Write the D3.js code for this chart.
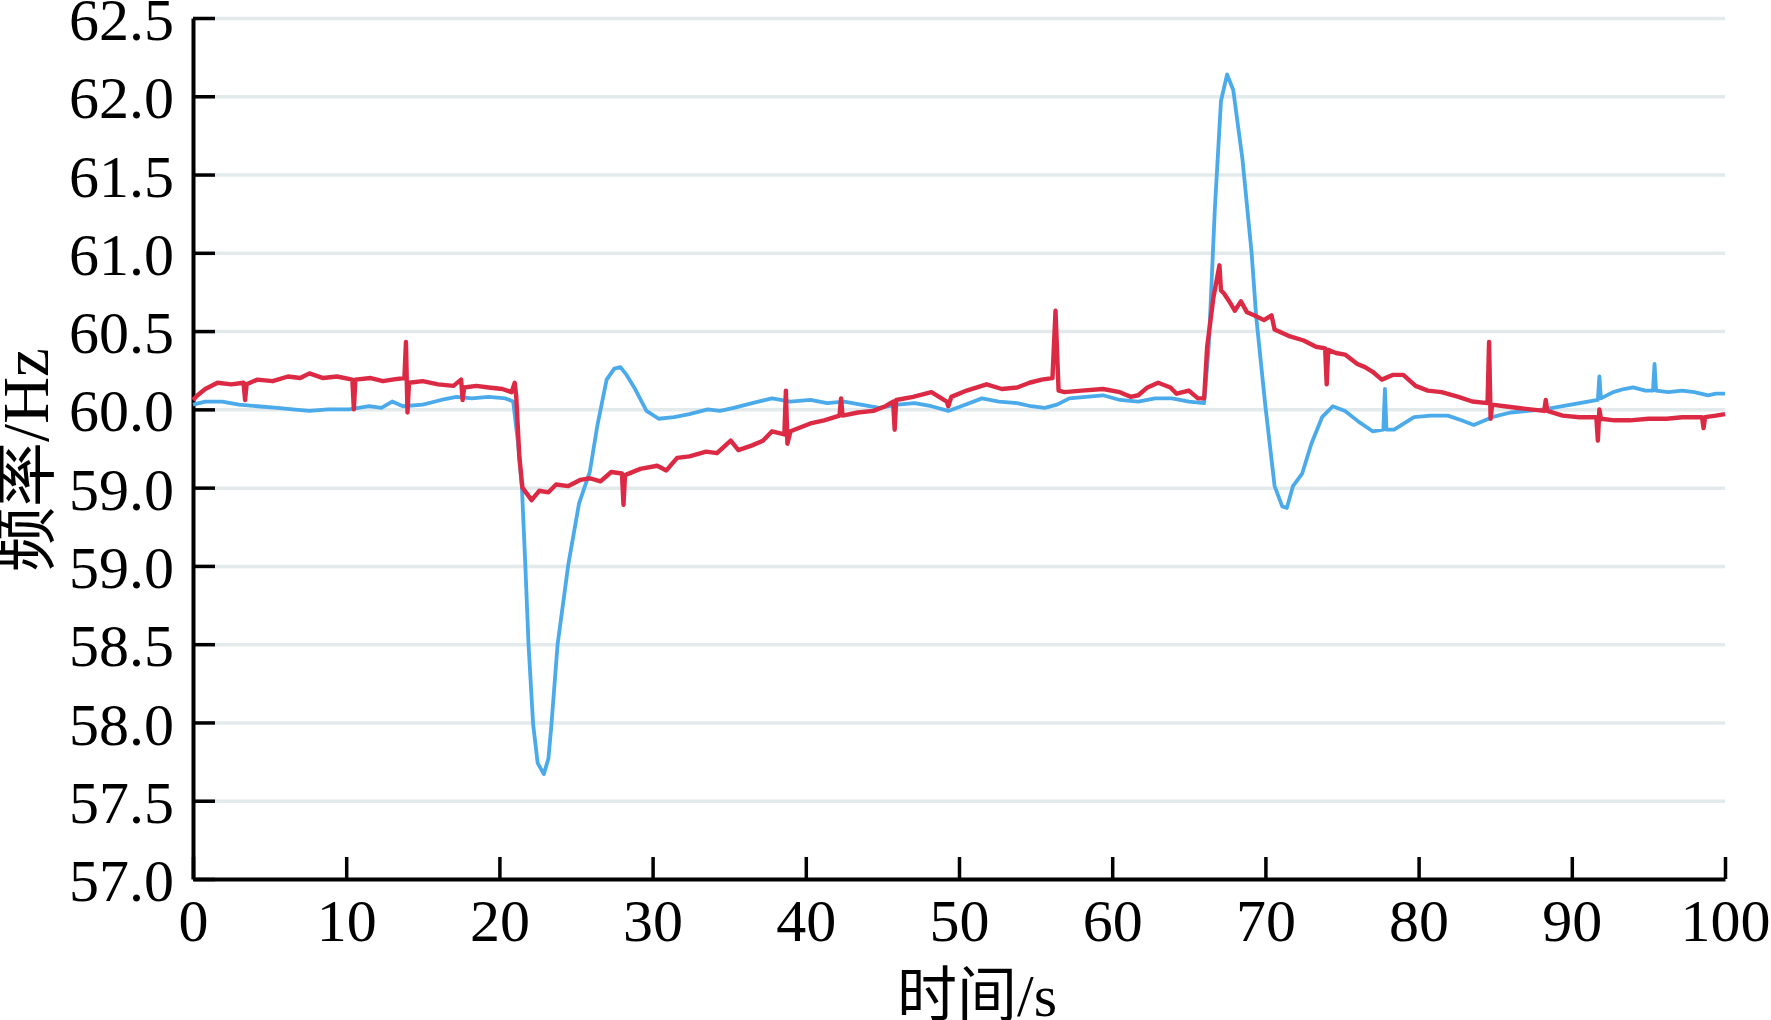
<!DOCTYPE html>
<html>
<head>
<meta charset="utf-8">
<script src="https://cdn.jsdelivr.net/npm/d3@7"></script>
<style>
    body { margin: 0; background: #fff; }
    .axis text { font-family: "Liberation Serif", "Times New Roman", serif; font-size: 60px; fill: #000; }
    .axis path, .axis line { stroke: #000; }
    .grid line { stroke: #e3eaec; stroke-width: 3.5px; }
    .grid path { display: none; }
    .axis-title { font-family: "Liberation Serif", "Noto Sans CJK SC", serif; fill: #000; }
</style>
</head>
<body>
<svg id="chart"></svg>
<script>
// time (s) and frequency (Hz)
const blueSeries = [
    [0, 60.03], [0.8, 60.05], [1.9, 60.05], [3.0, 60.03], [4.2, 60.02], [5.5, 60.01], [6.5, 60.00],
    [7.6, 59.99], [8.8, 60.00], [10.2, 60.00], [11.5, 60.02], [12.3, 60.01], [13.0, 60.05], [13.7, 60.02],
    [15.0, 60.03], [16.2, 60.06], [17.2, 60.08], [18.2, 60.07], [19.3, 60.08], [20.4, 60.07], [20.9, 60.05],
    [21.2, 59.80], [21.47, 59.50], [21.69, 59.01], [21.9, 58.50], [22.2, 57.99], [22.5, 57.74], [22.9, 57.67],
    [23.2, 57.77], [23.4, 57.99], [23.8, 58.50], [24.5, 59.01], [25.2, 59.40], [25.9, 59.60], [26.4, 59.90],
    [27.0, 60.19], [27.5, 60.26], [27.9, 60.27], [28.3, 60.22], [28.8, 60.14], [29.6, 59.99], [30.4, 59.94],
    [31.4, 59.95], [32.4, 59.97], [33.6, 60.00], [34.4, 59.99], [35.3, 60.01], [36.5, 60.04], [37.8, 60.07],
    [39.0, 60.05], [40.3, 60.06], [41.4, 60.04], [42.5, 60.05], [43.6, 60.03], [44.8, 60.01], [46.0, 60.03],
    [47.1, 60.04], [48.2, 60.02], [49.3, 59.99], [50.4, 60.03], [51.5, 60.07], [52.6, 60.05], [53.8, 60.04],
    [54.7, 60.02], [55.6, 60.01], [56.4, 60.03], [57.2, 60.07], [58.3, 60.08], [59.4, 60.09], [60.5, 60.06],
    [61.7, 60.05], [62.8, 60.07], [63.9, 60.07], [65.0, 60.05], [66.0, 60.04], [66.3, 60.40], [66.7, 61.28],
    [67.1, 61.97], [67.5, 62.14], [67.9, 62.04], [68.5, 61.60], [69.1, 61.00], [69.4, 60.59], [70.0, 60.02],
    [70.6, 59.51], [71.1, 59.38], [71.4, 59.37], [71.8, 59.51], [72.4, 59.59], [73.0, 59.78], [73.7, 59.95],
    [74.4, 60.02], [75.2, 59.99], [76.1, 59.92], [77.0, 59.86], [77.7, 59.87], [77.8, 60.13], [77.9, 59.87],
    [78.4, 59.87], [79.7, 59.95], [80.8, 59.96], [81.9, 59.96], [82.8, 59.93], [83.6, 59.90], [84.8, 59.95],
    [86.0, 59.98], [87.1, 59.99], [88.2, 60.00], [89.4, 60.02], [90.5, 60.04], [91.7, 60.06], [91.8, 60.21],
    [91.9, 60.07], [92.7, 60.11], [93.4, 60.13], [94.0, 60.14], [94.8, 60.12], [95.3, 60.12], [95.4, 60.29],
    [95.5, 60.12], [96.3, 60.11], [97.2, 60.12], [98.0, 60.11], [98.9, 60.09], [99.4, 60.10], [100, 60.10]
];

const redSeries = [
    [0, 60.06], [0.3, 60.09], [0.8, 60.13], [1.6, 60.17], [2.5, 60.16], [3.3, 60.17], [3.4, 60.06],
    [3.5, 60.16], [4.2, 60.19], [5.2, 60.18], [6.2, 60.21], [7.0, 60.20], [7.6, 60.23], [8.5, 60.20],
    [9.4, 60.21], [10.4, 60.19], [10.5, 60.00], [10.6, 60.19], [11.6, 60.20], [12.4, 60.18], [13.0, 60.19],
    [13.8, 60.20], [13.9, 60.43], [14.0, 59.98], [14.1, 60.17], [15.0, 60.18], [16.0, 60.16], [17.0, 60.15],
    [17.5, 60.19], [17.6, 60.06], [17.7, 60.14], [18.5, 60.15], [19.3, 60.14], [20.2, 60.13], [20.8, 60.11],
    [21.0, 60.17], [21.1, 60.08], [21.3, 59.70], [21.5, 59.50], [22.1, 59.42], [22.6, 59.48], [23.2, 59.47],
    [23.7, 59.52], [24.5, 59.51], [25.3, 59.55], [25.9, 59.56], [26.6, 59.54], [27.3, 59.60], [28.0, 59.59],
    [28.1, 59.39], [28.2, 59.58], [29.2, 59.62], [30.3, 59.64], [30.9, 59.61], [31.6, 59.69], [32.4, 59.70],
    [33.5, 59.73], [34.2, 59.72], [35.1, 59.80], [35.6, 59.74], [36.5, 59.77], [37.2, 59.80], [37.8, 59.86],
    [38.6, 59.84], [38.7, 60.12], [38.8, 59.78], [39.0, 59.86], [40.3, 59.91], [41.2, 59.93], [42.2, 59.96],
    [42.3, 60.07], [42.4, 59.96], [43.4, 59.98], [44.4, 59.99], [45.2, 60.02], [45.7, 60.05], [45.8, 59.87],
    [45.9, 60.06], [47.0, 60.08], [48.2, 60.11], [49.2, 60.05], [49.3, 60.02], [49.5, 60.08], [50.5, 60.12],
    [51.8, 60.16], [52.8, 60.13], [53.8, 60.14], [54.6, 60.17], [55.4, 60.19], [56.1, 60.20], [56.3, 60.63],
    [56.5, 60.12], [56.9, 60.11], [58.0, 60.12], [59.4, 60.13], [60.5, 60.11], [61.2, 60.08], [61.7, 60.09],
    [62.3, 60.14], [63.0, 60.17], [63.8, 60.14], [64.2, 60.10], [65.0, 60.12], [65.6, 60.07], [66.0, 60.07],
    [66.2, 60.40], [66.6, 60.71], [67.0, 60.92], [67.1, 60.76], [67.3, 60.74], [67.7, 60.68], [68.0, 60.63],
    [68.4, 60.69], [68.8, 60.62], [69.3, 60.60], [69.9, 60.57], [70.4, 60.60], [70.6, 60.51], [71.5, 60.47],
    [72.5, 60.44], [73.3, 60.40], [73.9, 60.39], [74.0, 60.16], [74.1, 60.38], [74.6, 60.36], [75.2, 60.35],
    [76.0, 60.29], [76.5, 60.27], [77.0, 60.24], [77.6, 60.19], [78.3, 60.22], [79.0, 60.22], [79.8, 60.15],
    [80.6, 60.12], [81.5, 60.11], [82.6, 60.08], [83.5, 60.05], [84.5, 60.04], [84.6, 60.43], [84.7, 59.94],
    [84.8, 60.03], [85.6, 60.02], [86.4, 60.01], [87.3, 60.00], [88.2, 59.99], [88.3, 60.06], [88.4, 59.99],
    [89.4, 59.96], [90.5, 59.95], [91.6, 59.95], [91.7, 59.80], [91.8, 60.00], [91.9, 59.94], [92.8, 59.93],
    [93.8, 59.93], [95.0, 59.94], [96.2, 59.94], [97.2, 59.95], [98.5, 59.95], [98.6, 59.88], [98.7, 59.95],
    [99.4, 59.96], [100, 59.97]
];

const xTicks = [0, 10, 20, 30, 40, 50, 60, 70, 80, 90, 100];
const yTicks = [57.0, 57.5, 58.0, 58.5, 59.0, 59.5, 60.0, 60.5, 61.0, 61.5, 62.0, 62.5];
// labels as printed on the figure (the 59.5 line is labelled 59.0 there)
const yTickLabels = ["57.0", "57.5", "58.0", "58.5", "59.0", "59.0", "60.0", "60.5", "61.0", "61.5", "62.0", "62.5"];

class FreqChart {
    constructor(_config) {
        this.config = {
            parentElement: _config.parentElement,
            containerWidth: _config.containerWidth || 1771,
            containerHeight: _config.containerHeight || 1020,
            margin: _config.margin || { top: 18, right: 46, bottom: 141, left: 193 }
        }
        this.initVis();
    }

    initVis() {
        let vis = this;

        vis.width = vis.config.containerWidth - vis.config.margin.left - vis.config.margin.right;
        vis.height = vis.config.containerHeight - vis.config.margin.top - vis.config.margin.bottom;

        vis.xScale = d3.scaleLinear().domain([0, 100]).range([0, vis.width]);
        vis.yScale = d3.scaleLinear().domain([57, 62.5]).range([vis.height, 0]);

        // ticks point into the plot
        vis.xAxis = d3.axisBottom(vis.xScale)
            .tickValues(xTicks)
            .tickSizeInner(-22)
            .tickSizeOuter(0)
            .tickPadding(19);

        vis.yAxis = d3.axisLeft(vis.yScale)
            .tickValues(yTicks)
            .tickFormat((d, i) => yTickLabels[i])
            .tickSizeInner(-22)
            .tickSizeOuter(0)
            .tickPadding(19);

        vis.svg = d3.select(vis.config.parentElement)
            .attr("width", vis.config.containerWidth)
            .attr("height", vis.config.containerHeight);

        vis.chart = vis.svg.append("g")
            .attr("transform", `translate(${vis.config.margin.left},${vis.config.margin.top})`);

        // horizontal grid
        vis.gridG = vis.chart.append("g").attr("class", "grid");

        vis.xAxisG = vis.chart.append("g")
            .attr("class", "axis x-axis")
            .attr("transform", `translate(0,${vis.height})`);

        vis.yAxisG = vis.chart.append("g").attr("class", "axis y-axis");

        vis.line = d3.line()
            .x(d => vis.xScale(d[0]))
            .y(d => vis.yScale(d[1]));

        vis.renderVis();
    }

    renderVis() {
        let vis = this;

        vis.gridG.call(d3.axisLeft(vis.yScale)
            .tickValues(yTicks.slice(1))
            .tickSize(-vis.width)
            .tickFormat(""));

        vis.chart.append("path")
            .datum(blueSeries)
            .attr("fill", "none")
            .attr("stroke", "#4baaea")
            .attr("stroke-width", 3.8)
            .attr("stroke-linejoin", "round")
            .attr("d", vis.line);

        vis.chart.append("path")
            .datum(redSeries)
            .attr("fill", "none")
            .attr("stroke", "#dc2a45")
            .attr("stroke-width", 4.4)
            .attr("stroke-linejoin", "round")
            .attr("d", vis.line);

        vis.xAxisG.call(vis.xAxis);
        vis.yAxisG.call(vis.yAxis);

        vis.xAxisG.select(".domain").attr("stroke-width", 4);
        vis.yAxisG.select(".domain").attr("stroke-width", 4);
        vis.xAxisG.selectAll(".tick line").attr("stroke-width", 3.5);
        vis.yAxisG.selectAll(".tick line").attr("stroke-width", 3.5);
        vis.yAxisG.selectAll("text").attr("dy", "0.36em");

        vis.svg.append("text")
            .attr("class", "axis-title")
            .attr("x", 977)
            .attr("y", 1016)
            .style("font-size", "60px")
            .style("text-anchor", "middle")
            .text("时间/s");

        vis.svg.append("text")
            .attr("class", "axis-title")
            .attr("transform", "translate(48,460) rotate(-90)")
            .style("font-size", "65px")
            .style("text-anchor", "middle")
            .text("频率/Hz");
    }
}

new FreqChart({ parentElement: "#chart" });
</script>
</body>
</html>
